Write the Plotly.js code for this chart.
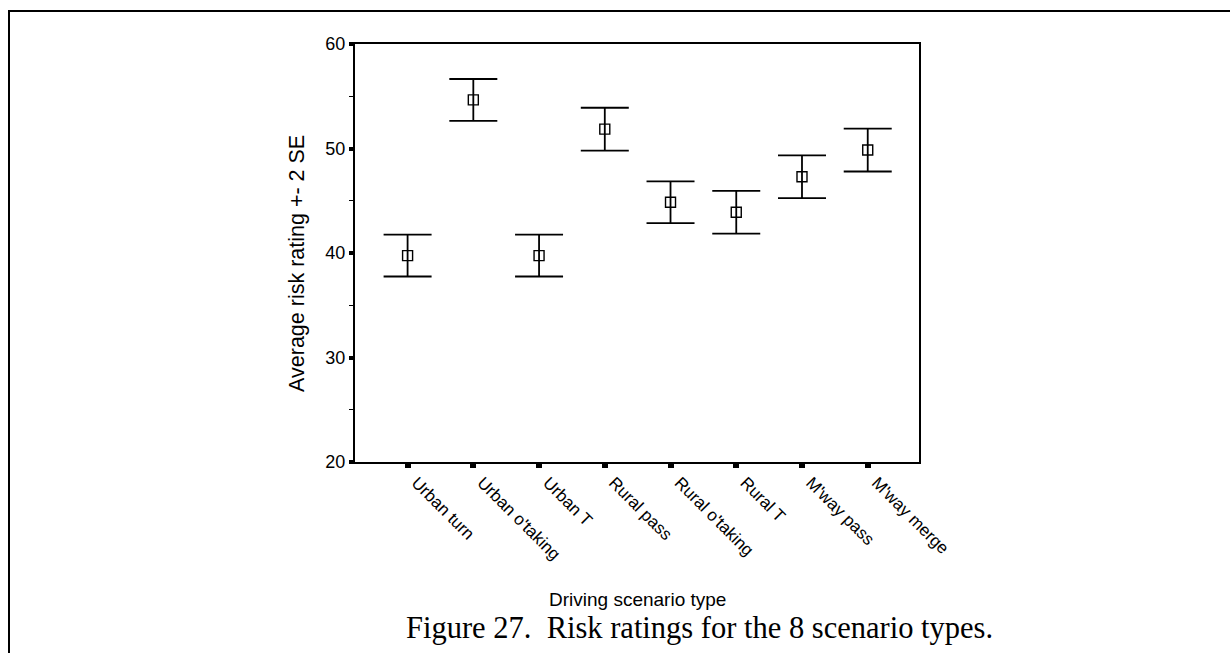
<!DOCTYPE html>
<html>
<head>
<meta charset="utf-8">
<script src="https://cdn.plot.ly/plotly-3.0.1.min.js"></script>
<style>
  html, body { margin: 0; padding: 0; background: #fff; }
  #wrap { position: relative; width: 1230px; height: 653px; overflow: hidden; }
  #chart { position: absolute; left: 0; top: 0; width: 1230px; height: 653px; }
  #frame { position: absolute; left: 8px; top: 10px; width: 1240px; height: 660px;
           border-top: 2px solid #000; border-left: 2px solid #000; pointer-events: none; }
</style>
</head>
<body>
<div id="wrap">
  <div id="chart"></div>
  <div id="frame"></div>
</div>
<script>
// Data
const categories = ["Urban turn", "Urban o'taking", "Urban T", "Rural pass",
                    "Rural o'taking", "Rural T", "M'way pass", "M'way merge"];
const means  = [39.75, 54.65, 39.75, 51.85, 44.85, 43.9, 47.3, 49.85];
const twoSE  = [2.0, 2.0, 2.0, 2.05, 2.0, 2.05, 2.05, 2.05];

const xTitle = "Driving scenario type";
const yTitle = "Average risk rating +- 2 SE";
const caption = "Figure 27.  Risk ratings for the 8 scenario types.";

const sans = "Liberation Sans, Arial, sans-serif";
const serif = "Liberation Serif, Times New Roman, serif";

const trace = {
  type: "scatter",
  mode: "markers",
  x: categories,
  y: means,
  marker: { symbol: "square-open", size: 10, color: "#000", line: { width: 1.4, color: "#000" } },
  error_y: { type: "data", array: twoSE, visible: true, color: "#000", thickness: 1.8, width: 24 },
  cliponaxis: false,
  showlegend: false,
  hoverinfo: "x+y"
};

const layout = {
  width: 1230, height: 653,
  margin: { l: 355, r: 311, t: 44, b: 191 },
  paper_bgcolor: "rgba(0,0,0,0)",
  plot_bgcolor: "#fff",
  font: { family: sans, color: "#000", size: 17 },
  xaxis: {
    type: "category",
    range: [-0.8, 7.78],
    showgrid: false, zeroline: false,
    showline: true, linecolor: "#000", linewidth: 2, mirror: true,
    ticks: "outside", ticklen: 4, tickwidth: 6, tickcolor: "#000",
    tickangle: 45,
    ticklabelstandoff: -2,
    ticklabelshift: 9,
    tickfont: { family: sans, size: 17, color: "#000" }
  },
  yaxis: {
    range: [20, 60],
    dtick: 10, tick0: 20,
    showgrid: false, zeroline: false,
    showline: true, linecolor: "#000", linewidth: 2, mirror: true,
    ticks: "outside", ticklen: 4, tickwidth: 4, tickcolor: "#000",
    tickfont: { family: sans, size: 18, color: "#000" },
    minor: { dtick: 5, ticks: "outside", ticklen: 4, tickwidth: 1, tickcolor: "#000", showgrid: false }
  },
  annotations: [
    {
      text: yTitle, xref: "paper", yref: "paper",
      x: -0.103, y: 0.476, xanchor: "center", yanchor: "middle", textangle: -90,
      showarrow: false,
      font: { family: sans, size: 21.5, color: "#000" }
    },
    {
      text: xTitle, xref: "paper", yref: "paper",
      x: 0.5, y: -0.328, xanchor: "center", yanchor: "middle",
      showarrow: false,
      font: { family: sans, size: 19, color: "#000" }
    },
    {
      text: caption, xref: "paper", yref: "paper",
      x: 0.61, y: -0.397, xanchor: "center", yanchor: "middle",
      showarrow: false,
      font: { family: serif, size: 30.5, color: "#000" }
    }
  ]
};

Plotly.newPlot("chart", [trace], layout, { displayModeBar: false, staticPlot: true });
</script>
</body>
</html>
